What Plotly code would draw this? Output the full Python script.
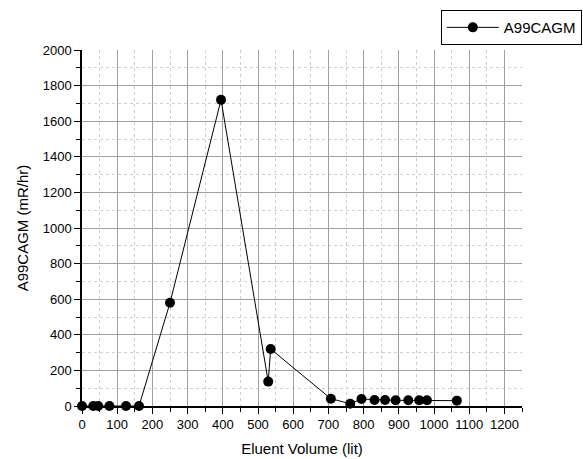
import plotly.graph_objects as go

volume = [0, 32, 46, 78, 125, 162, 250, 395, 529, 536, 707, 762, 794, 831, 861, 891, 927, 958, 980, 1065]
dose = [0, 0, 0, 0, 0, 0, 580, 1720, 137, 320, 41, 13, 39, 34, 34, 32, 32, 32, 32, 30]

fig = go.Figure()
fig.add_trace(go.Scatter(
    x=volume, y=dose, mode="lines+markers", name="A99CAGM",
    line=dict(color="black", width=1),
    marker=dict(color="black", size=10, symbol="circle"),
    cliponaxis=False,
))

font = dict(family="Liberation Sans, Arial, sans-serif", size=13, color="black")
fig.update_layout(
    width=583, height=459,
    margin=dict(l=82, r=61, t=50, b=53, autoexpand=False),
    paper_bgcolor="white", plot_bgcolor="white",
    font=font,
    showlegend=True,
    legend=dict(xref="container", yref="container", x=0.998, y=0.978,
                xanchor="right", yanchor="top",
                bordercolor="black", borderwidth=1, bgcolor="white",
                itemwidth=52, tracegroupgap=0,
                font=dict(family="Liberation Sans, Arial, sans-serif", size=15, color="black")),
    xaxis=dict(
        range=[0, 1250], tick0=0, dtick=100, tickangle=0,
        showline=True, linecolor="black", linewidth=1.5,
        ticks="outside", ticklen=6, tickcolor="black", tickwidth=1,
        showgrid=True, gridcolor="#a0a0a0", gridwidth=1,
        minor=dict(dtick=50, showgrid=True, gridcolor="#d0d0d0", griddash="dot",
                   ticks="outside", ticklen=4, tickcolor="black"),
        zeroline=False,
        title=dict(text="Eluent Volume (lit)", font=dict(size=15), standoff=12),
        tickfont=dict(size=13),
    ),
    yaxis=dict(
        range=[0, 2000], tick0=0, dtick=200,
        showline=True, linecolor="black", linewidth=1.5,
        ticks="outside", ticklen=6, tickcolor="black", tickwidth=1,
        showgrid=True, gridcolor="#a0a0a0", gridwidth=1,
        minor=dict(dtick=100, showgrid=True, gridcolor="#d0d0d0", griddash="dot",
                   ticks="outside", ticklen=4, tickcolor="black"),
        zeroline=False,
        title=dict(text="A99CAGM (mR/hr)", font=dict(size=15), standoff=10),
        tickfont=dict(size=13),
    ),
)

fig.write_html("out.html")
